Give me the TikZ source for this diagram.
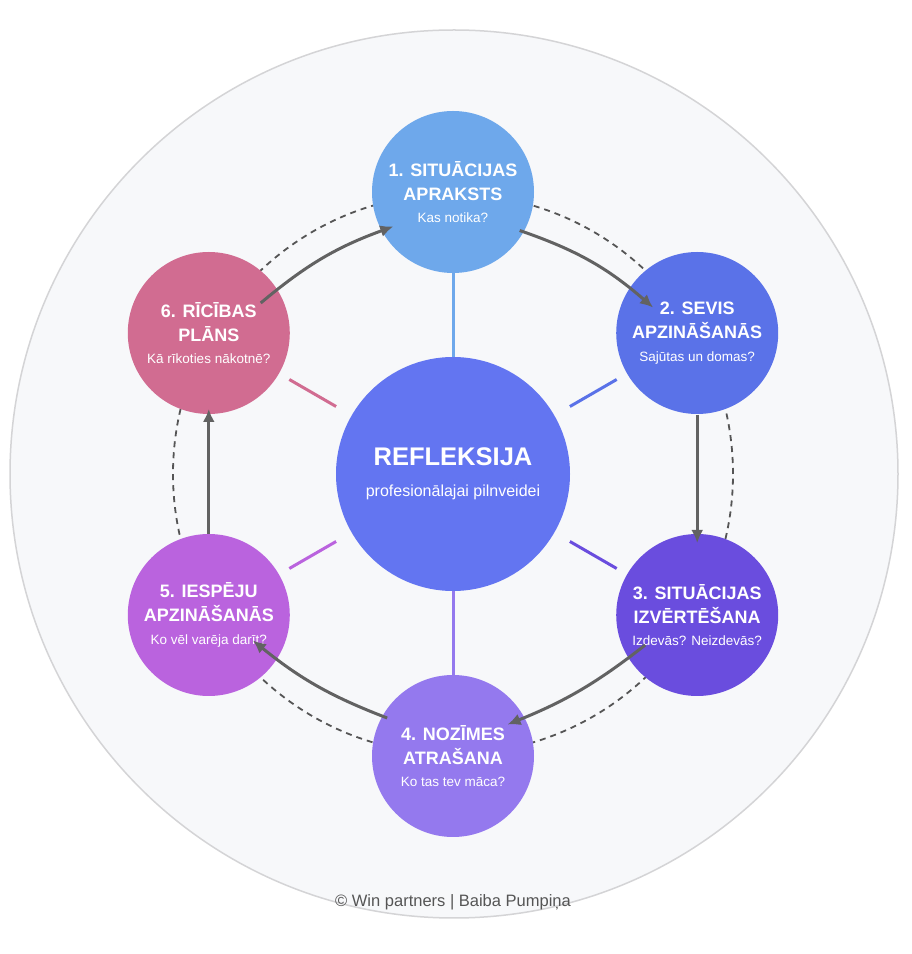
\documentclass[tikz,border=0pt]{standalone}
\usepackage{fontspec}
\setmainfont{Liberation Sans}
\usetikzlibrary{arrows.meta,calc}
\definecolor{stageA}{HTML}{6EA8EB}
\definecolor{stageB}{HTML}{5A72E8}
\definecolor{stageC}{HTML}{6A4DDE}
\definecolor{stageD}{HTML}{9479EE}
\definecolor{stageE}{HTML}{BA63DE}
\definecolor{stageF}{HTML}{D16C91}
\definecolor{hubblue}{HTML}{6375F1}
\definecolor{flowgray}{HTML}{626262}
\definecolor{ringgray}{HTML}{555555}
\tikzset{
	stage/.style={circle,minimum size=162pt,inner sep=0pt,text=white,align=center,
			font=\fontsize{18}{24}\selectfont\bfseries},
	hub/.style={circle,minimum size=234pt,inner sep=0pt,fill=hubblue,text=white,align=center,
			font=\fontsize{16}{31}\selectfont},
	spoke/.style={line width=3pt},
	flow/.style={-{Latex[length=13pt,width=12pt]},line width=3pt,draw=flowgray},
	ringdash/.style={draw=ringgray,line width=1.8pt,dash pattern=on 6pt off 5pt}
}
\newcommand{\stagenote}[1]{{\mdseries\fontsize{13.5}{16}\selectfont #1}}

\begin{document}
\begin{tikzpicture}[x=1pt,y=1pt]
	\useasboundingbox[fill=white] (0,0) rectangle (912,954);
	\coordinate (c) at (453,480);

	% background disc and dashed ring
	\draw[fill={rgb,255:red,247;green,248;blue,250},draw={rgb,255:red,212;green,212;blue,214},line width=1.5pt]
		(454,480) circle (444);
	\draw[ringdash] (c) circle (280);

	% the six stages
	\node[stage,fill=stageA] (n1) at ($(c)+(90:282)$) {1. SITUĀCIJAS\\APRAKSTS\\[-1.5pt]\stagenote{Kas notika?}};
	\node[stage,fill=stageB] (n2) at ($(c)+(30:282)$) {2. SEVIS\\APZINĀŠANĀS\\[-1.5pt]\stagenote{Sajūtas un domas?}};
	\node[stage,fill=stageC] (n3) at ($(c)+(-30:282)$) {3. SITUĀCIJAS\\IZVĒRTĒŠANA\\[-1.5pt]\stagenote{Izdevās? Neizdevās?}};
	\node[stage,fill=stageD] (n4) at ($(c)+(-90:282)$) {4. NOZĪMES\\ATRAŠANA\\[-1.5pt]\stagenote{Ko tas tev māca?}};
	\node[stage,fill=stageE] (n5) at ($(c)+(210:282)$) {5. IESPĒJU\\APZINĀŠANĀS\\[-1.5pt]\stagenote{Ko vēl varēja darīt?}};
	\node[stage,fill=stageF] (n6) at ($(c)+(150:282)$) {6. RĪCĪBAS\\PLĀNS\\[-1.5pt]\stagenote{Kā rīkoties nākotnē?}};

	% centre
	\node[hub] (refl) at (c) {{\fontsize{25.5}{30}\selectfont\bfseries REFLEKSIJA}\\profesionālajai pilnveidei};

	% spokes
	\draw[spoke,stageA] (refl) -- (n1);
	\draw[spoke,stageD] (refl) -- (n4);
	\draw[spoke,stageB,shorten <=135pt,shorten >=93pt] (refl.center) -- (n2.center);
	\draw[spoke,stageC,shorten <=135pt,shorten >=93pt] (refl.center) -- (n3.center);
	\draw[spoke,stageE,shorten <=135pt,shorten >=93pt] (refl.center) -- (n5.center);
	\draw[spoke,stageF,shorten <=135pt,shorten >=93pt] (refl.center) -- (n6.center);

	% cycle arrows
	\draw[flow] ($(n1)!77pt!(n2)$) to[bend left=11] ($(n2)!51pt!(n1)$);
	\draw[flow] ($(n2)!82pt!(n3)$) -- ($(n3)!72pt!(n2)$);
	\draw[flow] ($(n3)!60pt!(n4)$) to[bend left=8] ($(n4)!63pt!(n3)$);
	\draw[flow] ($(n4)!76pt!(n5)$) to[bend left=9] ($(n5)!51pt!(n4)$);
	\draw[flow] ($(n5)!81pt!(n6)$) -- ($(n6)!76pt!(n5)$);
	\draw[flow] ($(n6)!60pt!(n1)$) to[bend left=10] ($(n1)!69pt!(n6)$);

	% credit
	\node[text=ringgray,font=\fontsize{16.5}{20}\selectfont] (credit) at (453,52) {© Win partners | Baiba Pumpiņa};
\end{tikzpicture}
\end{document}
